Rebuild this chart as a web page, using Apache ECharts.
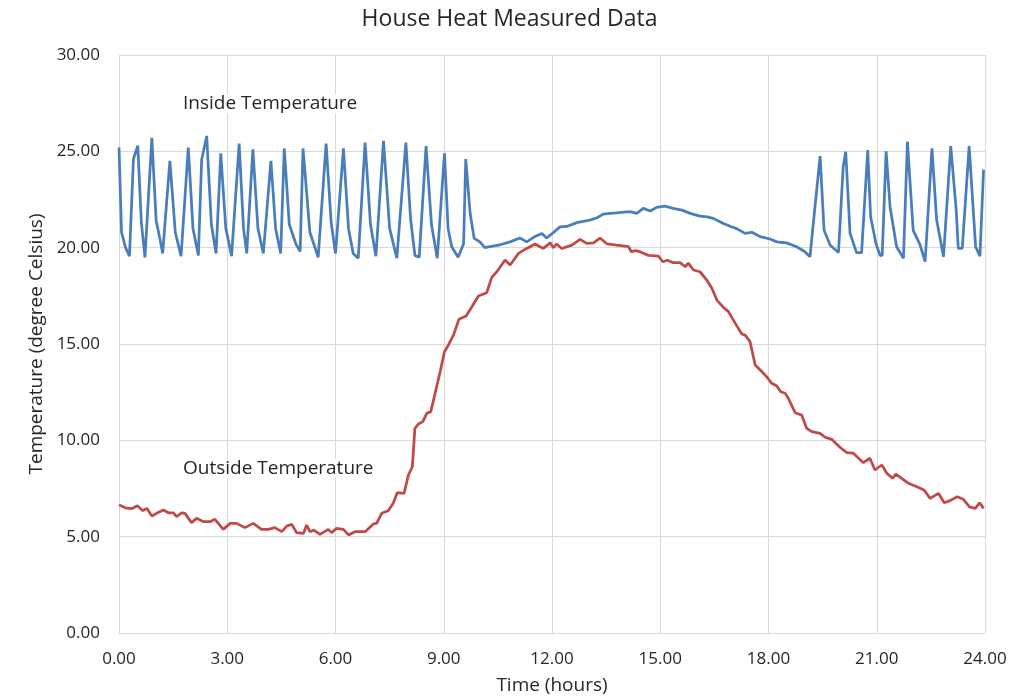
<!DOCTYPE html>
<html>
<head>
<meta charset="utf-8">
<script src="https://cdn.jsdelivr.net/npm/echarts@6/dist/echarts.min.js"></script>
<style>
html,body{margin:0;padding:0;background:#fff;}
#chart{width:1019px;height:700px;}
</style>
</head>
<body>
<div id="chart"></div>
<script>
// Inside temperature samples (hours, degree Celsius)
const insideTime = [0.00,0.07,0.18,0.29,0.40,0.52,0.62,0.72,0.91,1.03,1.14,1.21,1.41,1.56,1.72,1.92,2.05,2.20,2.29,2.43,2.56,2.69,2.82,2.96,3.12,3.33,3.45,3.54,3.71,3.85,4.00,4.21,4.34,4.48,4.58,4.72,4.90,5.02,5.10,5.29,5.52,5.74,5.88,6.00,6.22,6.36,6.49,6.63,6.82,6.97,7.12,7.33,7.50,7.70,7.95,8.08,8.20,8.32,8.51,8.66,8.82,9.02,9.12,9.22,9.40,9.55,9.61,9.73,9.84,10.00,10.14,10.28,10.56,10.84,11.11,11.30,11.50,11.72,11.85,12.05,12.22,12.41,12.69,12.90,13.05,13.25,13.42,13.60,13.79,14.00,14.16,14.35,14.53,14.72,14.90,15.13,15.36,15.60,15.83,16.10,16.30,16.47,16.75,16.95,17.12,17.35,17.54,17.77,18.04,18.23,18.50,18.78,19.00,19.15,19.43,19.54,19.71,19.94,20.07,20.14,20.26,20.44,20.58,20.75,20.83,20.98,21.09,21.15,21.26,21.37,21.55,21.74,21.85,22.01,22.20,22.34,22.53,22.66,22.85,23.05,23.20,23.26,23.37,23.56,23.74,23.86,23.96];
const insideTemp = [25.2,20.8,20.0,19.56,24.6,25.3,21.3,19.5,25.7,21.4,20.4,19.7,24.5,20.8,19.56,25.2,21.0,19.6,24.55,25.8,21.2,19.7,24.9,21.0,19.56,25.4,21.0,19.7,25.1,21.0,19.7,24.5,21.0,19.7,25.15,21.2,20.2,19.8,25.15,20.8,19.5,25.4,21.3,19.7,25.15,21.0,19.7,19.45,25.45,21.2,19.56,25.55,21.0,19.45,25.45,21.5,19.6,19.5,25.27,21.2,19.45,24.9,21.0,20.05,19.5,20.2,24.6,21.8,20.5,20.3,20.0,20.05,20.15,20.3,20.5,20.3,20.55,20.74,20.5,20.8,21.08,21.1,21.3,21.38,21.43,21.55,21.74,21.78,21.81,21.85,21.87,21.78,22.04,21.9,22.09,22.16,22.04,21.95,21.78,21.64,21.6,21.52,21.25,21.1,20.99,20.74,20.8,20.57,20.45,20.3,20.25,20.05,19.8,19.53,24.75,20.9,20.13,19.75,24.2,24.98,20.74,19.74,19.74,25.06,21.6,20.2,19.6,19.6,25.0,22.1,20.05,19.45,25.5,20.9,20.15,19.27,25.15,21.43,19.53,25.27,22.0,19.96,19.96,25.27,20.05,19.56,24.05];

// Outside temperature samples (hours, degree Celsius)
const outsideTime = [0.00,0.17,0.35,0.51,0.66,0.77,0.91,1.04,1.23,1.37,1.50,1.60,1.74,1.83,2.01,2.15,2.34,2.52,2.66,2.89,3.08,3.26,3.49,3.72,3.95,4.14,4.32,4.51,4.65,4.79,4.92,5.11,5.20,5.29,5.40,5.57,5.80,5.89,6.03,6.22,6.36,6.54,6.82,7.05,7.14,7.28,7.46,7.60,7.71,7.90,8.02,8.13,8.20,8.30,8.42,8.53,8.64,8.76,8.90,9.02,9.13,9.27,9.42,9.62,9.78,9.96,10.19,10.33,10.47,10.70,10.84,11.07,11.30,11.53,11.76,11.95,12.04,12.13,12.27,12.55,12.78,12.96,13.15,13.33,13.52,13.79,14.12,14.20,14.30,14.44,14.67,14.95,15.07,15.20,15.36,15.55,15.69,15.78,15.92,16.10,16.29,16.43,16.57,16.75,16.89,17.08,17.26,17.35,17.49,17.63,17.77,17.95,18.09,18.23,18.34,18.46,18.55,18.74,18.92,19.06,19.20,19.43,19.57,19.75,19.98,20.17,20.35,20.63,20.81,20.95,21.14,21.28,21.44,21.53,21.69,21.88,22.11,22.31,22.48,22.71,22.87,23.03,23.23,23.40,23.57,23.73,23.85,23.96];
const outsideTemp = [6.65,6.5,6.45,6.6,6.35,6.47,6.07,6.21,6.38,6.24,6.24,6.04,6.24,6.21,5.73,5.95,5.78,5.78,5.9,5.38,5.69,5.69,5.47,5.69,5.38,5.38,5.47,5.26,5.55,5.64,5.21,5.17,5.6,5.26,5.34,5.12,5.38,5.21,5.43,5.38,5.09,5.26,5.26,5.66,5.69,6.21,6.35,6.73,7.28,7.25,8.2,8.63,10.62,10.85,10.97,11.4,11.49,12.44,13.56,14.6,14.95,15.46,16.28,16.45,16.93,17.49,17.66,18.46,18.75,19.36,19.1,19.7,19.96,20.19,19.96,20.25,20.0,20.19,19.96,20.13,20.43,20.22,20.25,20.5,20.2,20.13,20.05,19.79,19.85,19.79,19.6,19.56,19.27,19.35,19.22,19.22,19.01,19.2,18.84,18.75,18.32,17.89,17.28,16.9,16.68,16.07,15.52,15.46,15.12,13.91,13.65,13.3,12.96,12.82,12.52,12.44,12.18,11.43,11.31,10.62,10.45,10.36,10.16,10.05,9.64,9.36,9.33,8.84,9.07,8.46,8.72,8.29,8.03,8.25,8.03,7.77,7.59,7.42,6.99,7.25,6.76,6.87,7.07,6.94,6.55,6.47,6.76,6.47];

const chartTitle = 'House Heat Measured Data';
const xAxisName = 'Time (hours)';
const yAxisName = 'Temperature (degree Celsius)';
const insideLabel = 'Inside Temperature';
const outsideLabel = 'Outside Temperature';

const FONT = 'Open Sans';
const TXT = '#262626';

const insideData = insideTime.map((t, i) => [t, insideTemp[i]]);
const outsideData = outsideTime.map((t, i) => [t, outsideTemp[i]]);

const chart = echarts.init(document.getElementById('chart'), null, {renderer: 'canvas'});
chart.setOption({
  animation: false,
  backgroundColor: '#fff',
  title: {
    text: chartTitle, left: 'center', top: 3,
    textStyle: {fontFamily: FONT, fontSize: 23, fontWeight: 'normal', color: TXT}
  },
  grid: {left: 119, right: 34, top: 55, bottom: 67},
  xAxis: {
    type: 'value', min: 0, max: 24, interval: 3,
    name: xAxisName, nameLocation: 'middle', nameGap: 43,
    nameTextStyle: {fontFamily: FONT, fontSize: 19, color: TXT},
    axisLine: {show: false}, axisTick: {show: false},
    axisLabel: {fontFamily: FONT, fontSize: 17, color: TXT, margin: 18, formatter: v => v.toFixed(2)},
    splitLine: {show: true, lineStyle: {color: '#d9d9d9', width: 1}}
  },
  yAxis: {
    type: 'value', min: 0, max: 30, interval: 5,
    name: yAxisName, nameLocation: 'middle', nameGap: 72, nameRotate: 90,
    nameTextStyle: {fontFamily: FONT, fontSize: 19, color: TXT},
    axisLine: {show: false}, axisTick: {show: false},
    axisLabel: {fontFamily: FONT, fontSize: 17, color: TXT, margin: 19, formatter: v => v.toFixed(2)},
    splitLine: {show: true, lineStyle: {color: '#d9d9d9', width: 1}}
  },
  series: [
    {name: insideLabel, type: 'line', data: insideData, showSymbol: false, symbol: 'none',
     lineStyle: {color: '#4a7ebb', width: 2.75}, itemStyle: {color: '#4a7ebb'}},
    {name: outsideLabel, type: 'line', data: outsideData, showSymbol: false, symbol: 'none',
     lineStyle: {color: '#be4b48', width: 2.75}, itemStyle: {color: '#be4b48'}}
  ],
  graphic: [
    {type: 'text', left: 183, top: 94, z: 100,
     style: {text: insideLabel, fontFamily: FONT, fontSize: 19, fill: TXT, backgroundColor: '#fff'}},
    {type: 'text', left: 183, top: 459, z: 100,
     style: {text: outsideLabel, fontFamily: FONT, fontSize: 19, fill: TXT, backgroundColor: '#fff'}}
  ]
});
</script>
</body>
</html>
